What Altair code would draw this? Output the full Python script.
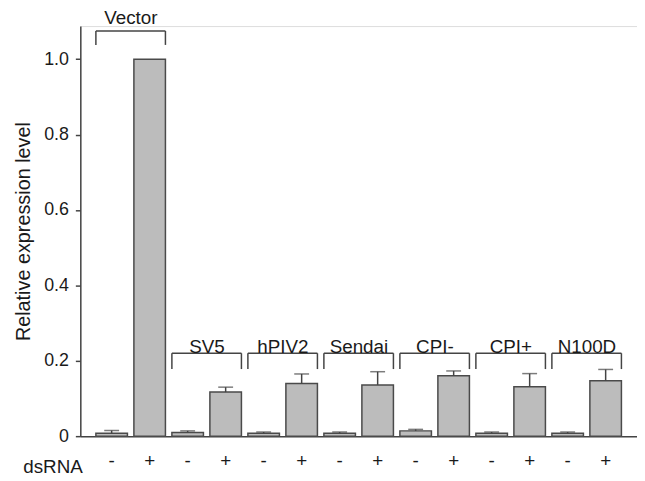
import altair as alt
import pandas as pd

groups = ["Vector", "SV5", "hPIV2", "Sendai", "CPI-", "CPI+", "N100D"]
minus_vals = [0.008, 0.010, 0.008, 0.008, 0.014, 0.008, 0.008]
minus_err = [0.007, 0.004, 0.003, 0.003, 0.004, 0.003, 0.003]
plus_vals = [1.0, 0.117, 0.140, 0.136, 0.160, 0.131, 0.147]
plus_err = [0.0, 0.013, 0.025, 0.035, 0.013, 0.035, 0.030]
bracket_top = [1.075, 0.220, 0.220, 0.220, 0.220, 0.220, 0.220]
bracket_bottom = [1.038, 0.178, 0.178, 0.178, 0.178, 0.178, 0.178]
label_y = [1.108, 0.236, 0.236, 0.236, 0.236, 0.236, 0.236]
y_ticks = [0, 0.2, 0.4, 0.6, 0.8, 1.0]

rows = []
ids = []
for g, mv, me, pv, pe in zip(groups, minus_vals, minus_err, plus_vals, plus_err):
    for sign, v, e in (("-", mv, me), ("+", pv, pe)):
        bid = f"{g}|{sign}"
        ids.append(bid)
        rows.append({"id": bid, "group": g, "sign": sign, "value": v, "top": v + e, "err": e})
bars_df = pd.DataFrame(rows)
err_df = bars_df[bars_df["err"] > 0]

br_df = pd.DataFrame({
    "group": groups,
    "left": [f"{g}|-" for g in groups],
    "right": [f"{g}|+" for g in groups],
    "top": bracket_top,
    "bottom": bracket_bottom,
    "ly": label_y,
})

FONT = "Liberation Sans"
TXT = "#1a1a1a"
xscale = alt.Scale(domain=ids, paddingInner=0.17, paddingOuter=0.41)
yscale = alt.Scale(domain=[0, 1.088], nice=False, zero=True)

x_axis = alt.Axis(
    title="dsRNA", labelExpr="split(datum.label, '|')[1]", labelAngle=0,
    ticks=False, labelFontSize=19, labelPadding=16, labelFont=FONT,
    labelColor=TXT, domainColor="#444", domainWidth=1.5,
    titleFont=FONT, titleFontSize=19, titleFontWeight="normal", titleColor=TXT,
    titleX=2, titleY=31, titleAlign="right", titleBaseline="middle", titleAnchor="start",
)
y_axis = alt.Axis(
    title="Relative expression level", values=y_ticks,
    labelExpr="datum.value == 0 ? '0' : format(datum.value, '.1f')",
    grid=False, tickSize=5, tickColor="#444", tickWidth=1.5,
    domainColor="#444", domainWidth=1.5,
    labelFontSize=18, labelFont=FONT, labelColor=TXT, labelPadding=7,
    titleFont=FONT, titleFontSize=20, titleFontWeight="normal", titleColor=TXT,
    titlePadding=10,
)

base = alt.Chart(bars_df)
bars = base.mark_bar(fill="#bcbcbc", stroke="#4a4a4a", strokeWidth=1.5).encode(
    x=alt.X("id:N", scale=xscale, sort=ids, axis=x_axis),
    y=alt.Y("value:Q", scale=yscale, axis=y_axis),
)

err_base = alt.Chart(err_df)
stems = err_base.mark_rule(color="#444", strokeWidth=1.5).encode(
    x=alt.X("id:N", scale=xscale, sort=ids),
    y=alt.Y("value:Q", scale=yscale),
    y2="top:Q",
)
caps = err_base.mark_tick(color="#444", thickness=1.5, size=15).encode(
    x=alt.X("id:N", scale=xscale, sort=ids),
    y=alt.Y("top:Q", scale=yscale),
)

br = alt.Chart(br_df)
hline = br.mark_rule(color="#444", strokeWidth=1.5).encode(
    x=alt.X("left:N", scale=xscale, sort=ids, bandPosition=0),
    x2=alt.X2("right:N", bandPosition=1),
    y=alt.Y("top:Q", scale=yscale),
)
lline = br.mark_rule(color="#444", strokeWidth=1.5).encode(
    x=alt.X("left:N", scale=xscale, sort=ids, bandPosition=0),
    y=alt.Y("bottom:Q", scale=yscale),
    y2="top:Q",
)
rline = br.mark_rule(color="#444", strokeWidth=1.5).encode(
    x=alt.X("right:N", scale=xscale, sort=ids, bandPosition=1),
    y=alt.Y("bottom:Q", scale=yscale),
    y2="top:Q",
)
labels = br.mark_text(font=FONT, fontSize=19, color=TXT, dx=-3, baseline="middle").encode(
    x=alt.X("right:N", scale=xscale, sort=ids, bandPosition=0),
    y=alt.Y("ly:Q", scale=yscale),
    text="group:N",
)

chart = alt.layer(bars, stems, caps, hline, lline, rline, labels).properties(
    width=562, height=414,
    autosize=alt.AutoSizeParams(type="none"),
    padding={"left": 73, "top": 16, "right": 0, "bottom": 40},
).configure_view(stroke=None).configure(background="white")

chart.save("out.html", embed_options={"renderer": "svg", "actions": False})
